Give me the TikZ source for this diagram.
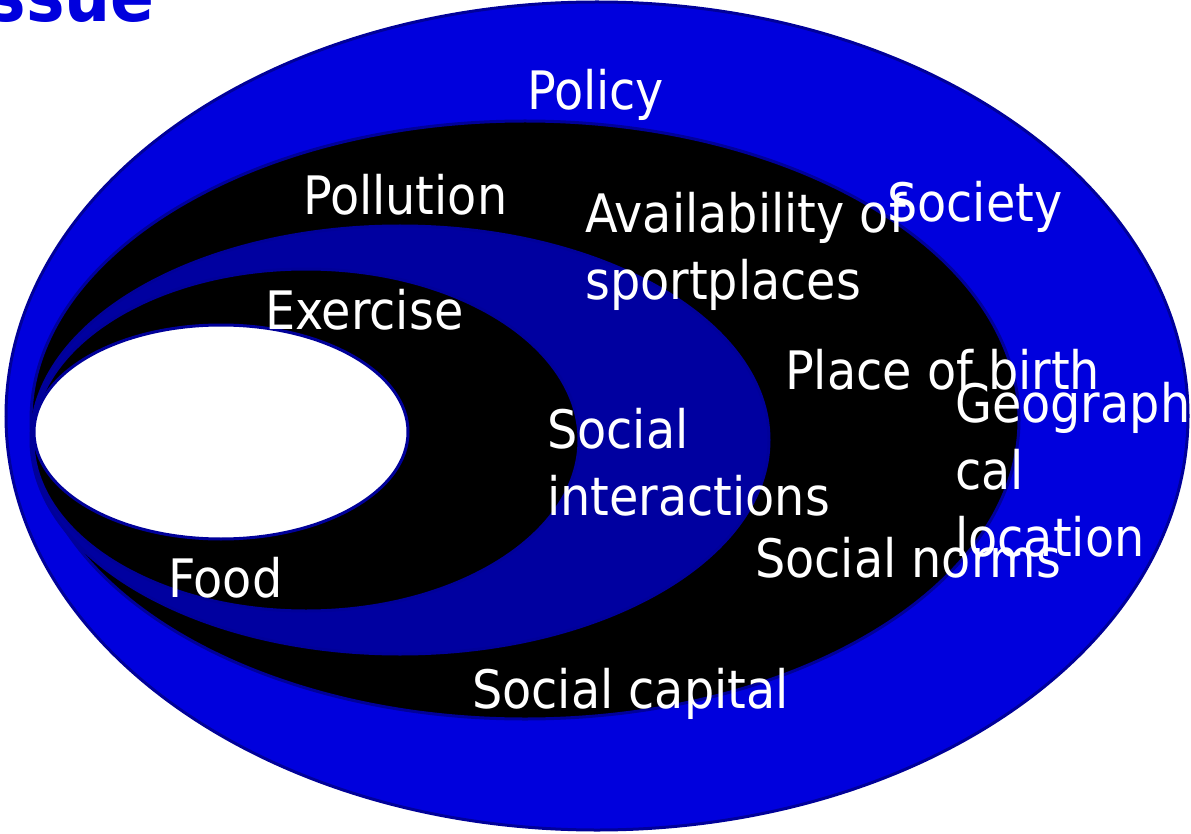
\documentclass[tikz,border=0pt]{standalone}
\usepackage{fontspec}
\setmainfont{DejaVu Sans Condensed}
\definecolor{ringblue}{HTML}{0000DD}
\definecolor{deepblue}{HTML}{0000A0}
\definecolor{edgeblue}{HTML}{000099}
\tikzset{
    layer/.style={draw=edgeblue, line width=3pt}, % outline of every ring
    lbl/.style={text=white, font=\fontsize{53}{67}\selectfont, inner sep=0pt, anchor=base west, align=left}, % white ring labels
}
\begin{document}
\begin{tikzpicture}[x=1pt, y=-1pt]
    \useasboundingbox (0,0) rectangle (1191,834);
    % rings, outermost first
    \filldraw[layer, fill=ringblue] (597,416) ellipse [x radius=591, y radius=414];
    \filldraw[layer, fill=black] (525,420) ellipse [x radius=494, y radius=299];
    \filldraw[layer, fill=deepblue] (400,440) ellipse [x radius=369, y radius=214];
    \filldraw[layer, fill=black] (306,440) ellipse [x radius=273, y radius=171];
    \filldraw[layer, fill=white] (221,432) ellipse [x radius=187, y radius=107];
    % labels (base anchor of a wrapped label sits on its last line)
    \node[text=ringblue, font=\fontsize{72}{80}\selectfont\bfseries, anchor=base east, inner sep=0pt] (title) at (155,22) {ssue};
    \node[lbl] (policy) at (527,110) {Policy};
    \node[lbl] (society) at (887,222) {Society};
    \node[lbl] (pollution) at (303,215) {Pollution};
    \node[lbl] (avail) at (585,300) {Availability of\\sportplaces};
    \node[lbl] (birth) at (785,389) {Place of birth};
    \node[lbl] (geo) at (955,556) {Geographi\\cal\\location};
    \node[lbl] (exercise) at (265,330) {Exercise};
    \node[lbl] (interact) at (547,515) {Social\\interactions};
    \node[lbl] (norms) at (755,577) {Social norms};
    \node[lbl] (food) at (168,597) {Food};
    \node[lbl] (capital) at (472,708) {Social capital};
\end{tikzpicture}
\end{document}
